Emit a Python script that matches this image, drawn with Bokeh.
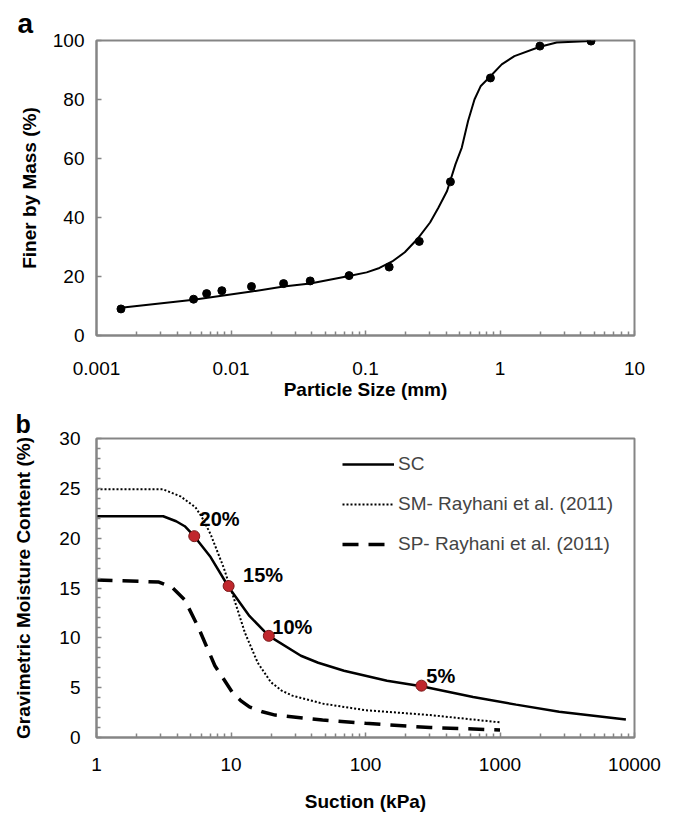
from bokeh.plotting import figure
from bokeh.models import (FixedTicker, CustomJSTickFormatter, Legend,
                          LegendItem, Range1d, ColumnDataSource)
from bokeh.core.properties import value
from bokeh.layouts import column
from bokeh.embed import file_html
from bokeh.resources import INLINE

FONT = "Liberation Sans"

# ---------------- Panel a: grain size distribution ----------------
size_pts = [0.00152, 0.00527, 0.00659, 0.00855, 0.0142, 0.0246, 0.0388,
            0.0755, 0.150, 0.251, 0.428, 0.849, 1.98, 4.75]
finer_pts = [9.0, 12.3, 14.2, 15.2, 16.6, 17.6, 18.5, 20.3, 23.2, 31.9,
             52.1, 87.3, 98.1, 99.8]

size_fit = [0.00152, 0.00527, 0.0142, 0.0246, 0.0388, 0.0755, 0.102, 0.127,
            0.158, 0.196, 0.243, 0.302, 0.349, 0.404, 0.467, 0.520, 0.579,
            0.646, 0.720, 0.849, 1.03, 1.28, 1.98, 2.64, 4.75]
finer_fit = [9.4, 12.1, 14.9, 16.6, 17.6, 20.2, 21.4, 22.9, 25.1, 28.2,
             32.7, 38.3, 43.4, 49.0, 58.1, 63.7, 72.7, 80.0, 84.6, 87.9,
             91.9, 94.7, 97.9, 99.3, 99.8]

a_xticks = [0.001, 0.01, 0.1, 1, 10]
a_yticks = [0, 20, 40, 60, 80, 100]

# ---------------- Panel b: soil water characteristic curves ----------------
suction_sc = [1, 3.13, 3.91, 4.53, 5.33, 7.05, 9.6, 13.7, 19.1, 33.1, 44.5,
              69.2, 144.5, 260.6, 631, 1318, 2754, 8630]
w_sc = [22.2, 22.2, 21.7, 21.2, 20.2, 18.1, 15.1, 12.2, 10.2, 8.2, 7.5,
        6.7, 5.7, 5.15, 4.06, 3.3, 2.58, 1.8]

suction_sm = [1, 3.13, 4.21, 5.44, 6.08, 7.05, 8.79, 10.6, 12.7, 15.8, 19.8,
              23.8, 28.6, 47.9, 100, 302, 1000]
w_sm = [24.9, 24.9, 24.2, 23.1, 22.1, 20.4, 17.1, 13.8, 10.5, 7.5, 5.55,
        4.7, 4.2, 3.4, 2.74, 2.25, 1.52]

suction_sp = [1, 2.91, 3.63, 4.53, 5.65, 7.59, 10.2, 11.8, 13.7, 17.1, 21.3,
              47.9, 100, 302, 1000]
w_sp = [15.8, 15.6, 15.1, 13.8, 11.2, 7.2, 4.56, 3.7, 3.07, 2.58, 2.25,
        1.75, 1.42, 1.0, 0.76]

marker_suction = [5.33, 9.6, 19.1, 260.6]
marker_w = [20.2, 15.2, 10.2, 5.2]

note_text = ["20%", "15%", "10%", "5%"]
note_x = [8.23, 17.3, 28.6, 363]
note_y = [21.9, 16.3, 11.1, 6.2]

b_xticks = [1, 10, 100, 1000, 10000]
b_yticks = [0, 5, 10, 15, 20, 25, 30]
b_yminor = [v for v in range(0, 31) if v % 5 != 0]

legend_labels = ["SC", "SM- Rayhani et al. (2011)", "SP- Rayhani et al. (2011)"]

AXIS_COL = "#858585"


def log_minor(lo_exp, hi_exp):
    out = []
    for e in range(lo_exp, hi_exp):
        for k in range(2, 10):
            out.append(k * 10.0 ** e)
    return out


def style_axes(p):
    p.xgrid.visible = False
    p.ygrid.visible = False
    p.outline_line_color = AXIS_COL
    p.outline_line_width = 2
    for ax in (p.xaxis[0], p.yaxis[0]):
        ax.axis_line_color = AXIS_COL
        ax.axis_line_width = 2
        ax.major_tick_line_color = AXIS_COL
        ax.minor_tick_line_color = AXIS_COL
        ax.major_tick_line_width = 1.5
        ax.minor_tick_line_width = 1.5
        ax.major_tick_in = 5
        ax.major_tick_out = 0
        ax.minor_tick_in = 4
        ax.minor_tick_out = 0
        ax.major_label_text_font = FONT
        ax.major_label_text_font_size = "19px"
        ax.major_label_text_color = "black"
        ax.axis_label_text_font = FONT
        ax.axis_label_text_font_size = "19px"
        ax.axis_label_text_font_style = "bold"
        ax.axis_label_text_color = "black"


def style_title(p, txt, size, offset, standoff):
    p.title.text = txt
    p.title.align = "left"
    p.title.offset = offset
    p.title.standoff = standoff
    p.title.text_font = FONT
    p.title.text_font_size = size
    p.title.text_font_style = "bold"
    p.title.text_color = "black"


fmt = CustomJSTickFormatter(code="return tick.toString();")

# ---------------- Figure a ----------------
pa = figure(width=674, height=406, x_axis_type="log",
            x_range=Range1d(0.001, 10), y_range=Range1d(0, 100),
            output_backend="svg", toolbar_location=None,
            min_border_left=91, min_border_right=37,
            min_border_top=40, min_border_bottom=71)
style_axes(pa)
style_title(pa, "a", "28px", -79, 4)
pa.xaxis.ticker = FixedTicker(ticks=a_xticks, minor_ticks=log_minor(-3, 1))
pa.xaxis.formatter = fmt
pa.yaxis.ticker = FixedTicker(ticks=a_yticks)
pa.xaxis.axis_label = "Particle Size (mm)"
pa.yaxis.axis_label = "Finer by Mass (%)"
pa.xaxis.major_label_standoff = 26
pa.xaxis.axis_label_standoff = 1
pa.yaxis.major_label_standoff = 12
pa.yaxis.axis_label_standoff = 10

pa.line(size_fit, finer_fit, line_color="black", line_width=2)
pa.scatter(size_pts, finer_pts, size=8, fill_color="black", line_color="black")

# ---------------- Figure b ----------------
pb = figure(width=674, height=414, x_axis_type="log",
            x_range=Range1d(1, 10000), y_range=Range1d(0, 30),
            output_backend="svg", toolbar_location=None,
            min_border_left=96, min_border_right=40,
            min_border_top=31, min_border_bottom=83)
style_axes(pb)
style_title(pb, "b", "25px", -81, 2)
pb.xaxis.ticker = FixedTicker(ticks=b_xticks, minor_ticks=log_minor(0, 4))
pb.xaxis.formatter = fmt
pb.yaxis.ticker = FixedTicker(ticks=b_yticks, minor_ticks=b_yminor)
pb.xaxis.axis_label = "Suction (kPa)"
pb.yaxis.axis_label = "Gravimetric Moisture Content (%)"
pb.xaxis.major_label_standoff = 20
pb.xaxis.axis_label_standoff = 17
pb.yaxis.major_label_standoff = 16
pb.yaxis.axis_label_standoff = 22

r_sc = pb.line(suction_sc, w_sc, line_color="black", line_width=2.5)
r_sm = pb.line(suction_sm, w_sm, line_color="black", line_width=2,
               line_dash="2 2")
r_sp = pb.line(suction_sp, w_sp, line_color="black", line_width=3.5,
               line_dash="16 10")
pb.scatter(marker_suction, marker_w, size=11, fill_color="#c0272d",
           line_color="#7a1a1a", line_width=1)

src = ColumnDataSource(dict(x=note_x, y=note_y, t=note_text))
pb.text(x="x", y="y", text="t", source=src, text_font=value(FONT),
        text_font_size="20px", text_font_style="bold", text_align="center",
        text_baseline="middle", text_color="black")

legend = Legend(items=[LegendItem(label=legend_labels[0], renderers=[r_sc]),
                       LegendItem(label=legend_labels[1], renderers=[r_sm]),
                       LegendItem(label=legend_labels[2], renderers=[r_sp])],
                location=(246, 182), glyph_width=52, glyph_height=20,
                label_height=20, spacing=18, padding=0, margin=0,
                border_line_color=None, background_fill_alpha=0,
                label_text_font=FONT, label_text_font_size="19px",
                label_standoff=4)
pb.add_layout(legend)

layout = column(pa, pb, spacing=0)
open("out.html", "w").write(file_html(layout, INLINE))
